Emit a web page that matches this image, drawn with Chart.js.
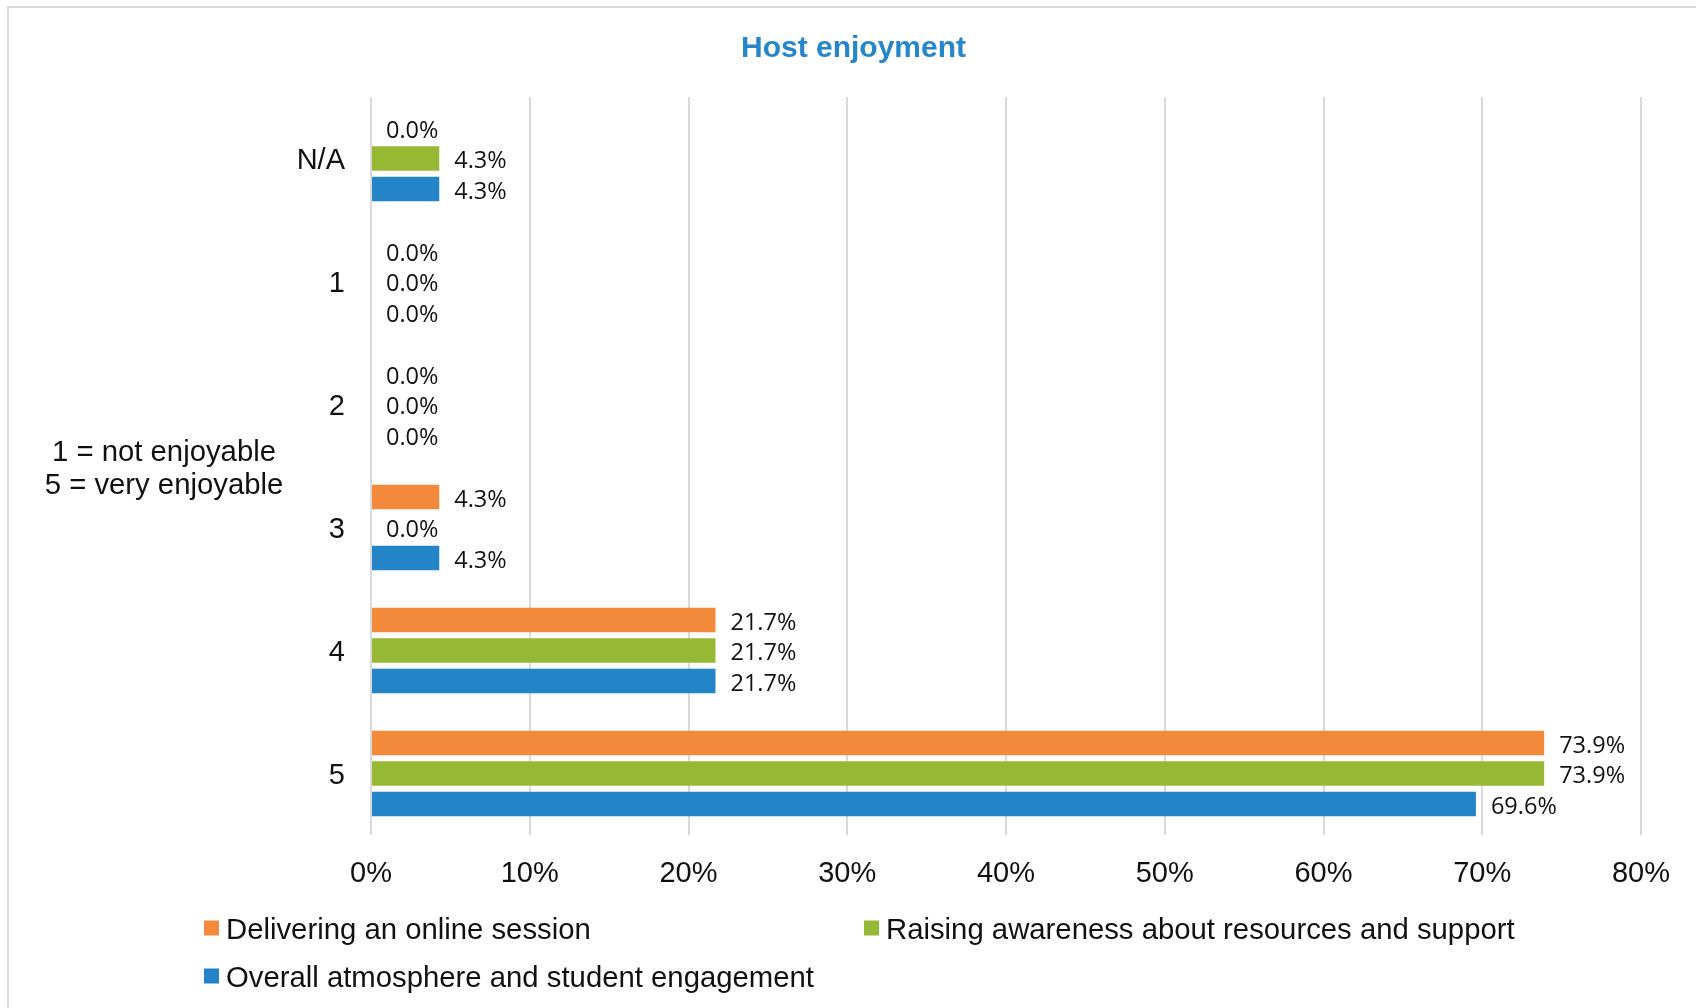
<!DOCTYPE html>
<html><head><meta charset="utf-8">
<script src="https://cdn.jsdelivr.net/npm/chart.js@4.4.1/dist/chart.umd.min.js"></script>
<style>html,body{margin:0;padding:0;background:#fff;} canvas{display:block;}</style>
</head><body>
<canvas id="c" width="1696" height="1008"></canvas>
<script>
const categories = ['N/A', '1', '2', '3', '4', '5'];
const deliveringValues = [0.0, 0.0, 0.0, 4.3, 21.7, 73.9];
const raisingValues = [4.3, 0.0, 0.0, 0.0, 21.7, 73.9];
const overallValues = [4.3, 0.0, 0.0, 4.3, 21.7, 69.6];
const seriesNames = ['Delivering an online session', 'Raising awareness about resources and support', 'Overall atmosphere and student engagement'];
const seriesColors = ['#F2893B', '#97B834', '#2385C8'];
const xTickMax = 80;
const xTickStep = 10;
const axisNoteLines = ['1 = not enjoyable', '5 = very enjoyable'];
const chartTitle = 'Host enjoyment';

const SANS = '"Liberation Sans", Arial, sans-serif';
const LABEL_FONT = '"Open Sans", sans-serif';

const extrasPlugin = {
  id: 'extras',
  beforeDraw(chart) {
    const ctx = chart.ctx;
    ctx.save();
    ctx.fillStyle = '#fff';
    ctx.fillRect(0, 0, chart.width, chart.height);
    ctx.strokeStyle = '#d9d9d9';
    ctx.lineWidth = 2;
    ctx.beginPath();
    ctx.moveTo(8, chart.height + 5);
    ctx.lineTo(8, 7);
    ctx.lineTo(chart.width + 5, 7);
    ctx.stroke();
    ctx.restore();
  },
  afterDatasetsDraw(chart) {
    const ctx = chart.ctx;
    ctx.save();
    ctx.font = '23.5px ' + LABEL_FONT;
    ctx.fillStyle = '#111';
    ctx.textAlign = 'left';
    ctx.textBaseline = 'middle';
    chart.data.datasets.forEach((ds, di) => {
      const meta = chart.getDatasetMeta(di);
      meta.data.forEach((el, i) => {
        ctx.fillText(ds.data[i].toFixed(1) + '%', el.x + 15, el.y + 3);
      });
    });
    ctx.restore();
  },
  afterDraw(chart) {
    const ctx = chart.ctx;
    const area = chart.chartArea;
    ctx.save();
    // axis note
    ctx.font = '29.3px ' + SANS;
    ctx.fillStyle = '#111';
    ctx.textAlign = 'center';
    ctx.textBaseline = 'middle';
    const midY = (area.top + area.bottom) / 2;
    ctx.fillText(axisNoteLines[0], 164, midY - 13);
    ctx.fillText(axisNoteLines[1], 164, midY + 20);
    // legend
    const pos = [[204, 928], [864, 928], [204, 976]];
    ctx.textAlign = 'left';
    chart.data.datasets.forEach((ds, di) => {
      const [x, y] = pos[di];
      ctx.fillStyle = ds.backgroundColor;
      ctx.fillRect(x, y - 7.5, 15, 15);
      ctx.fillStyle = '#111';
      ctx.fillText(ds.label, x + 22, y + 3);
    });
    ctx.restore();
  }
};

const valueSets = [deliveringValues, raisingValues, overallValues];

new Chart(document.getElementById('c'), {
  type: 'bar',
  data: {
    labels: categories,
    datasets: valueSets.map((vals, i) => ({
      label: seriesNames[i],
      data: vals,
      backgroundColor: seriesColors[i],
      borderWidth: 0,
      categoryPercentage: 0.745,
      barPercentage: 0.8
    }))
  },
  options: {
    indexAxis: 'y',
    responsive: false,
    animation: false,
    devicePixelRatio: 1,
    layout: { padding: { left: 66, right: 55, top: 0, bottom: 0 } },
    plugins: {
      legend: { display: false },
      tooltip: { enabled: false },
      title: {
        display: true,
        text: chartTitle,
        color: '#2586CA',
        font: { family: SANS, size: 30, weight: 'bold', lineHeight: 1.2 },
        padding: { top: 31, bottom: 30 }
      }
    },
    scales: {
      x: {
        min: 0,
        max: xTickMax,
        ticks: {
          stepSize: xTickStep,
          callback: v => v + '%',
          color: '#111',
          font: { family: SANS, size: 29 },
          padding: 22
        },
        grid: { color: '#d9d9d9', lineWidth: 2, drawTicks: false },
        border: { display: false },
        afterFit(scale) { scale.height = 173; }
      },
      y: {
        ticks: {
          color: '#111',
          font: { family: SANS, size: 29 },
          padding: 26,
          labelOffset: 2
        },
        grid: { display: false, drawTicks: false },
        border: { display: false },
        afterFit(scale) { scale.width = 305; }
      }
    }
  },
  plugins: [extrasPlugin]
});
</script>
</body></html>
